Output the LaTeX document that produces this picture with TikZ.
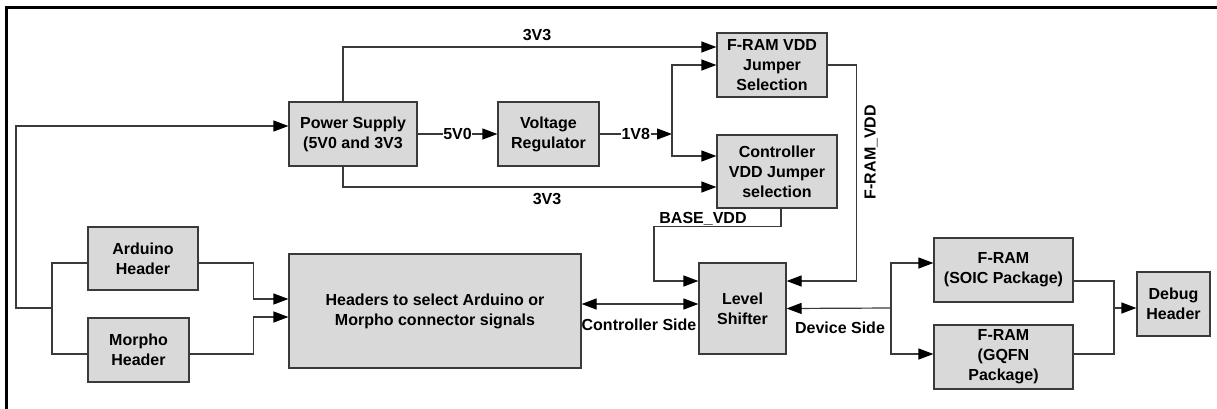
\documentclass[tikz,border=0pt]{standalone}
\usepackage{fontspec}
\setmainfont{Liberation Sans}
\usetikzlibrary{arrows.meta,positioning,calc}
\definecolor{BoxFill}{HTML}{D9D9D9}
\definecolor{Wire}{HTML}{3A3A3A}

\tikzset{
  blk/.style={draw=Wire, fill=BoxFill, line width=1.2pt, align=center, inner sep=0pt,
    font=\fontsize{16}{20}\selectfont\bfseries},
  wire/.style={draw=Wire, line width=1.2pt},
  arr/.style={wire, -{Triangle[length=15pt,width=11pt,color=black]}},
  dbl/.style={wire, {Triangle[length=15pt,width=11pt,color=black]}-{Triangle[length=15pt,width=11pt,color=black]}},
  lbl/.style={font=\fontsize{16}{20}\selectfont\bfseries, inner sep=0.5pt},
}

\begin{document}
\begin{tikzpicture}[x=1pt,y=-1pt]
  \useasboundingbox (0,0) rectangle (1217,408);
  % outer frame
  \draw[line width=3pt] (6,412) -- (6,7) -- (1221,7);

  % blocks
  \node[blk, minimum width=128, minimum height=64] (ps) at (353,134) {Power Supply\\(5V0 and 3V3};
  \node[blk, minimum width=101, minimum height=64] (vr) at (548.5,134) {Voltage\\Regulator};
  \node[blk, minimum width=110, minimum height=64] (fj) at (772,65) {F-RAM VDD\\Jumper\\Selection};
  \node[blk, minimum width=120, minimum height=73] (cj) at (777,171.5) {Controller\\VDD Jumper\\selection};
  \node[blk, minimum width=110, minimum height=63] (ard) at (143,258.5) {Arduino\\Header};
  \node[blk, minimum width=101, minimum height=64] (mor) at (138.5,350) {Morpho\\Header};
  \node[blk, minimum width=292, minimum height=114] (hdr) at (435,311) {Headers to select Arduino or\\Morpho connector signals};
  \node[blk, minimum width=87, minimum height=91] (ls) at (742.5,308.5) {Level\\Shifter};
  \node[blk, minimum width=139, minimum height=64] (soic) at (1003.5,270) {F-RAM\\(SOIC Package)};
  \node[blk, minimum width=139, minimum height=64] (gqfn) at (1003.5,357) {F-RAM\\(GQFN\\Package)};
  \node[blk, minimum width=73, minimum height=64] (dbg) at (1173.5,304) {Debug\\Header};

  % junctions
  \coordinate (jin) at (16,308);
  \coordinate (jhd) at (52,308);
  \coordinate (j18) at (672,134);
  \coordinate (chw) at ([yshift=4.5]ls.west);
  \coordinate (jdev) at (891,308);
  \coordinate (jdbg) at (1114,308);

  % headers
  \draw[arr] (jhd) -- (jin) |- ([yshift=8]ps.west);
  \draw[wire] ([yshift=-4.5]ard.west) -| (jhd) |- ([yshift=-4]mor.west);
  \draw[arr] ([yshift=-4.5]ard.east) -- ++(55,0) |- ([yshift=12]hdr.west);
  \draw[arr] ([yshift=-4]mor.east) -- ++(64,0) |- ([yshift=-6]hdr.west);

  % power rails
  \draw[arr] ([xshift=-10]ps.north) |- ([yshift=18]fj.west);
  \draw[arr] ([xshift=-10]ps.south) |- ([yshift=-15.5]cj.west);
  \draw[arr] (ps.east) -- node[lbl, fill=white] (l5v) {5V0} (vr.west);
  \draw[arr] (vr.east) -- node[lbl, fill=white] (l18) {1V8} (j18);
  \draw[arr] (j18) |- (fj.west);
  \draw[arr] (j18) |- ([yshift=15.5]cj.west);
  \node[lbl] (v33a) at (537,35) {3V3};
  \node[lbl] (v33b) at (547,199) {3V3};

  % jumper outputs
  \draw[arr] (fj.east) -- ++(29,0) |- ([yshift=27.5]ls.east);
  \draw[arr] ([xshift=4]cj.south) -- ++(0,18) -- ++(-127,0) |- ([yshift=27.5]ls.west);
  \node[lbl, rotate=90] (fvdd) at (871,152) {F-RAM\_VDD};
  \node[lbl] (bvdd) at (703,219) {BASE\_VDD};

  % signal side
  \draw[dbl] (hdr.east |- chw) -- (chw);
  \node[lbl] (cside) at (639,325) {Controller Side};
  \draw[arr] (jdev) -- (ls.east);
  \draw[arr] (jdev) |- ([yshift=7]soic.west);
  \draw[arr] (jdev) |- ([yshift=3]gqfn.west);
  \node[lbl] (dside) at (840,328) {Device Side};

  % debug
  \draw[wire] ([yshift=-11]soic.east) -| (jdbg);
  \draw[wire] ([yshift=3]gqfn.east) -| (jdbg);
  \draw[arr] (jdbg) -- (dbg.west |- jdbg);
\end{tikzpicture}
\end{document}
